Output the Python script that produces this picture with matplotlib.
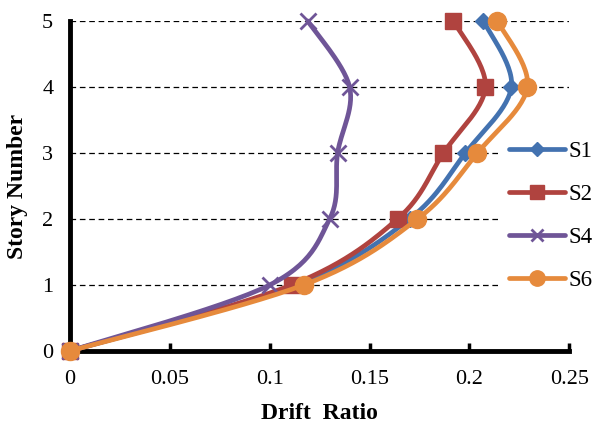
import numpy as np
import matplotlib.pyplot as plt

plt.rcParams['font.family'] = ['Liberation Serif', 'DejaVu Serif']

# story levels and drift ratios for each model
stories = [0, 1, 2, 3, 4, 5]
s1 = [0.0, 0.113, 0.170, 0.198, 0.221, 0.207]
s2 = [0.0, 0.111, 0.164, 0.187, 0.208, 0.192]
s4 = [0.0, 0.100, 0.130, 0.134, 0.140, 0.119]
s6 = [0.0, 0.117, 0.174, 0.204, 0.229, 0.214]

labels = ['S1', 'S2', 'S4', 'S6']
colors = ['#4372B0', '#B0433F', '#6F5597', '#E68A3C']
markers = ['D', 's', 'x', 'o']
msizes = [8, 12, 11, 13]


def smooth(x, y, n=30):
    # Catmull-Rom style smoothing (same idea as a spreadsheet "smoothed line")
    p = np.column_stack([x, y]).astype(float)
    p = np.vstack([p[0], p, p[-1]])
    out = [p[1]]
    idx = [0]
    for i in range(1, len(p) - 2):
        p0, p1, p2, p3 = p[i - 1], p[i], p[i + 1], p[i + 2]
        c1 = p1 + (p2 - p0) / 6
        c2 = p2 - (p3 - p1) / 6
        t = np.linspace(0, 1, n + 1)[1:, None]
        seg = ((1 - t) ** 3 * p1 + 3 * (1 - t) ** 2 * t * c1
               + 3 * (1 - t) * t ** 2 * c2 + t ** 3 * p2)
        out.extend(seg)
        idx.append(len(out) - 1)
    out = np.array(out)
    return out[:, 0], out[:, 1], idx


fig = plt.figure(figsize=(5.93, 4.28), dpi=100)
ax = fig.add_axes([0.118, 0.180, 0.842, 0.771])

for vals, lab, c, m, ms in zip([s1, s2, s4, s6], labels, colors, markers, msizes):
    sx, sy, idx = smooth(vals, stories)
    ax.plot(sx, sy, color=c, lw=3.4, marker=m, markevery=idx, ms=ms,
            mew=2 if m == 'x' else 1, mec=c, mfc=c, label=lab,
            clip_on=False, zorder=3, solid_capstyle='round')

ax.set_xlim(0, 0.25)
ax.set_ylim(0, 5)
ax.set_xticks([0, 0.05, 0.1, 0.15, 0.2, 0.25])
ax.set_xticklabels(['0', '0.05', '0.1', '0.15', '0.2', '0.25'])
ax.set_yticks([0, 1, 2, 3, 4, 5])

for y in [1, 2, 3, 4, 5]:
    ax.axhline(y, color='black', lw=0.9, ls=(0, (4.5, 3)), zorder=1)

for side in ['top', 'right']:
    ax.spines[side].set_visible(False)
for side in ['left', 'bottom']:
    ax.spines[side].set_linewidth(3.5)
    ax.spines[side].set_zorder(2)

ax.tick_params(axis='x', direction='in', length=6, width=2.5, labelsize=16, pad=14)
ax.tick_params(axis='y', length=0, labelsize=16, pad=12)

ax.set_xlabel('Drift  Ratio', fontsize=17, fontweight='bold', labelpad=10)
ax.set_ylabel('Story Number', fontsize=17, fontweight='bold', labelpad=10)

leg = fig.legend(loc='center left', bbox_to_anchor=(0.843, 0.495), fontsize=16.5,
                 handlelength=2.45, labelspacing=0.95, handletextpad=0.15,
                 borderpad=0.4, borderaxespad=0, frameon=True, fancybox=False,
                 framealpha=1, markerscale=0.85)
leg.get_frame().set_edgecolor('none')
leg.get_frame().set_facecolor('white')

fig.savefig('out.png', dpi=100)
